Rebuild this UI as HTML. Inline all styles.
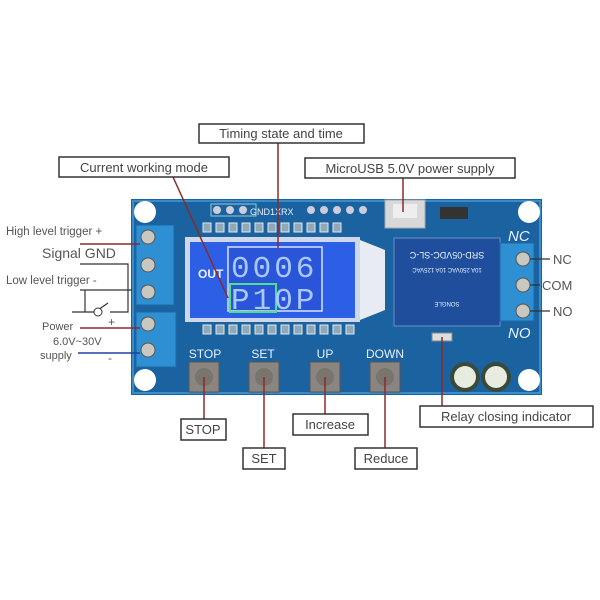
<!DOCTYPE html>
<html><head><meta charset="utf-8"><style>
body{margin:0;background:#fff}
svg{display:block}
.l{font-family:"Liberation Sans",sans-serif;fill:#555}
.bx{fill:#fff;stroke:#333;stroke-width:1.5}
.bt{font-family:"Liberation Sans",sans-serif;font-size:13px;fill:#444}
.ln{stroke:#8b2a2a;stroke-width:1.5;fill:none}
.pin{fill:#8fa9b8;stroke:#dfe8ee;stroke-width:1}
.w{font-family:"Liberation Sans",sans-serif;fill:#eaf2ff}
.seg{font-family:"Liberation Mono",monospace;font-size:31px;fill:#a8c8ff;letter-spacing:3px}
</style></head><body>
<svg width="600" height="600" viewBox="0 0 600 600">
<rect x="131" y="199" width="411" height="196" fill="#1a62a0"/>
<rect x="133" y="201" width="407" height="192" fill="none" stroke="#3a8cc6" stroke-width="2"/>
<circle cx="145" cy="212" r="11" fill="#fff"/><circle cx="145" cy="380" r="11" fill="#fff"/>
<circle cx="529" cy="212" r="11" fill="#fff"/><circle cx="529" cy="380" r="11" fill="#fff"/>
<rect x="211" y="204" width="45" height="12" fill="none" stroke="#9cc" stroke-width="1"/>
<text x="250" y="215" class="w" font-size="9">GND1XRX</text>
<circle cx="217" cy="210" r="4" fill="#ccd"/><circle cx="230" cy="210" r="4" fill="#ccd"/><circle cx="243" cy="210" r="4" fill="#ccd"/>
<circle cx="311" cy="210" r="4" fill="#ccd"/><circle cx="324" cy="210" r="4" fill="#ccd"/><circle cx="337" cy="210" r="4" fill="#ccd"/><circle cx="350" cy="210" r="4" fill="#ccd"/><circle cx="363" cy="210" r="4" fill="#ccd"/>
<g>
<rect x="203" y="223" width="8" height="9" class="pin"/><rect x="216" y="223" width="8" height="9" class="pin"/><rect x="229" y="223" width="8" height="9" class="pin"/><rect x="242" y="223" width="8" height="9" class="pin"/><rect x="255" y="223" width="8" height="9" class="pin"/><rect x="268" y="223" width="8" height="9" class="pin"/><rect x="281" y="223" width="8" height="9" class="pin"/><rect x="294" y="223" width="8" height="9" class="pin"/><rect x="307" y="223" width="8" height="9" class="pin"/><rect x="320" y="223" width="8" height="9" class="pin"/><rect x="333" y="223" width="8" height="9" class="pin"/>
<rect x="203" y="325" width="8" height="9" class="pin"/><rect x="216" y="325" width="8" height="9" class="pin"/><rect x="229" y="325" width="8" height="9" class="pin"/><rect x="242" y="325" width="8" height="9" class="pin"/><rect x="255" y="325" width="8" height="9" class="pin"/><rect x="268" y="325" width="8" height="9" class="pin"/><rect x="281" y="325" width="8" height="9" class="pin"/><rect x="294" y="325" width="8" height="9" class="pin"/><rect x="307" y="325" width="8" height="9" class="pin"/><rect x="320" y="325" width="8" height="9" class="pin"/><rect x="333" y="325" width="8" height="9" class="pin"/><rect x="346" y="325" width="8" height="9" class="pin"/>
</g>
<rect x="385" y="200" width="40" height="28" fill="#d8d8d8" stroke="#aaa"/>
<rect x="393" y="204" width="24" height="14" fill="#eee"/>
<rect x="440" y="207" width="28" height="12" fill="#333"/>
<rect x="185" y="237" width="175" height="85" fill="#cfd8e8"/>
<polygon points="360,240 385,250 385,310 360,320" fill="#e8ecf2"/>
<rect x="190" y="242" width="165" height="76" fill="#2d5fe6"/>
<rect x="228" y="247" width="94" height="64" fill="#2a55d8" stroke="#d8e4ff" stroke-width="1.5"/>
<rect x="230" y="284" width="46" height="28" fill="none" stroke="#4fe08a" stroke-width="2"/>
<text x="198" y="278" class="w" font-size="12" font-weight="bold">OUT</text>
<text x="231" y="277" class="seg">0006</text>
<text x="231" y="309" class="seg">P10P</text>
<rect x="394" y="238" width="106" height="88" fill="#1e4e9c" stroke="#6a90c8"/>
<text x="447" y="258" class="w" font-size="9" text-anchor="middle" transform="rotate(180 447 255)">SRD-05VDC-SL-C</text>
<text x="447" y="272" class="w" font-size="6" text-anchor="middle" transform="rotate(180 447 270)">10A 250VAC 10A 125VAC</text>
<text x="447" y="306" class="w" font-size="6" text-anchor="middle" transform="rotate(180 447 304)">SONGLE</text>
<rect x="136" y="225" width="38" height="80" fill="#2f8fd3" stroke="#1a6aa6"/>
<rect x="136" y="312" width="40" height="55" fill="#2f8fd3" stroke="#1a6aa6"/>
<rect x="500" y="243" width="34" height="78" fill="#2f8fd3" stroke="#1a6aa6"/>
<g fill="#c8c8c0" stroke="#555">
<circle cx="148" cy="237" r="7"/><circle cx="148" cy="265" r="7"/><circle cx="148" cy="292" r="7"/>
<circle cx="148" cy="324" r="7"/><circle cx="148" cy="350" r="7"/>
<circle cx="523" cy="259" r="7"/><circle cx="523" cy="285" r="7"/><circle cx="523" cy="311" r="7"/>
</g>
<text x="508" y="241" class="w" font-size="15" font-style="italic">NC</text>
<text x="508" y="338" class="w" font-size="15" font-style="italic">NO</text>
<g class="w" font-size="12" text-anchor="middle">
<text x="205" y="358">STOP</text><text x="263" y="358">SET</text><text x="325" y="358">UP</text><text x="385" y="358">DOWN</text></g>
<g fill="#8a8580" stroke="#555">
<rect x="189" y="362" width="30" height="30"/><rect x="249" y="362" width="30" height="30"/><rect x="310" y="362" width="30" height="30"/><rect x="370" y="362" width="30" height="30"/></g>
<g fill="#7a746e"><circle cx="204" cy="377" r="9"/><circle cx="264" cy="377" r="9"/><circle cx="325" cy="377" r="9"/><circle cx="385" cy="377" r="9"/></g>
<rect x="432" y="333" width="20" height="8" fill="#ddd" stroke="#888"/>
<circle cx="465" cy="377" r="15" fill="#3a4a3a"/><circle cx="496" cy="377" r="15" fill="#3a4a3a"/>
<circle cx="465" cy="377" r="11" fill="#e8ebe0"/><circle cx="496" cy="377" r="11" fill="#e8ebe0"/>
<path class="ln" d="M278 143 V248"/>
<path class="ln" d="M173 177 L228 298"/>
<path class="ln" d="M403 178 V212"/>
<path class="ln" d="M204 377 V419"/>
<path class="ln" d="M264 377 V448"/>
<path class="ln" d="M325 377 V414"/>
<path class="ln" d="M385 377 V448"/>
<path class="ln" d="M442 337 V406"/>
<path class="ln" d="M80 244 H140"/>
<path class="ln" d="M80 328 H140"/>
<path d="M78 353 H140" stroke="#2040a0" stroke-width="1.5"/>
<path d="M80 264 H128 V312 H110 M72 312 H95 L108 303 M80 290 H132" stroke="#333" stroke-width="1.2" fill="none"/>
<circle cx="98" cy="312" r="4" fill="#fff" stroke="#333"/>
<path d="M85 290 V312" stroke="#333" stroke-width="1.2"/>
<path d="M530 259 H550 M530 285 H540 M530 311 H550" stroke="#333" stroke-width="1.2"/>
<text x="6" y="235" class="l" font-size="11.5">High level  trigger +</text>
<text x="42" y="258" class="l" font-size="14">Signal GND</text>
<text x="6" y="284" class="l" font-size="11.5">Low level  trigger -</text>
<text x="42" y="330" class="l" font-size="11">Power</text>
<text x="53" y="345" class="l" font-size="11">6.0V~30V</text>
<text x="40" y="359" class="l" font-size="11">supply</text>
<text x="108" y="326" class="l" font-size="12">+</text><text x="108" y="362" class="l" font-size="12">-</text>
<text x="553" y="264" class="l" font-size="13">NC</text>
<text x="542" y="290" class="l" font-size="13">COM</text>
<text x="553" y="316" class="l" font-size="13">NO</text>
<rect x="199" y="124" width="165" height="19" class="bx"/><text x="281" y="138" class="bt" text-anchor="middle">Timing state and time</text>
<rect x="59" y="157" width="170" height="20" class="bx"/><text x="144" y="172" class="bt" text-anchor="middle">Current working mode</text>
<rect x="305" y="158" width="210" height="20" class="bx"/><text x="410" y="173" class="bt" text-anchor="middle">MicroUSB 5.0V power supply</text>
<rect x="181" y="419" width="45" height="21" class="bx"/><text x="203" y="434" class="bt" text-anchor="middle">STOP</text>
<rect x="243" y="448" width="42" height="21" class="bx"/><text x="264" y="463" class="bt" text-anchor="middle">SET</text>
<rect x="293" y="414" width="75" height="21" class="bx"/><text x="330" y="429" class="bt" text-anchor="middle">Increase</text>
<rect x="355" y="448" width="62" height="21" class="bx"/><text x="386" y="463" class="bt" text-anchor="middle">Reduce</text>
<rect x="420" y="406" width="173" height="21" class="bx"/><text x="506" y="421" class="bt" text-anchor="middle">Relay closing indicator</text>
</svg>
</body></html>
